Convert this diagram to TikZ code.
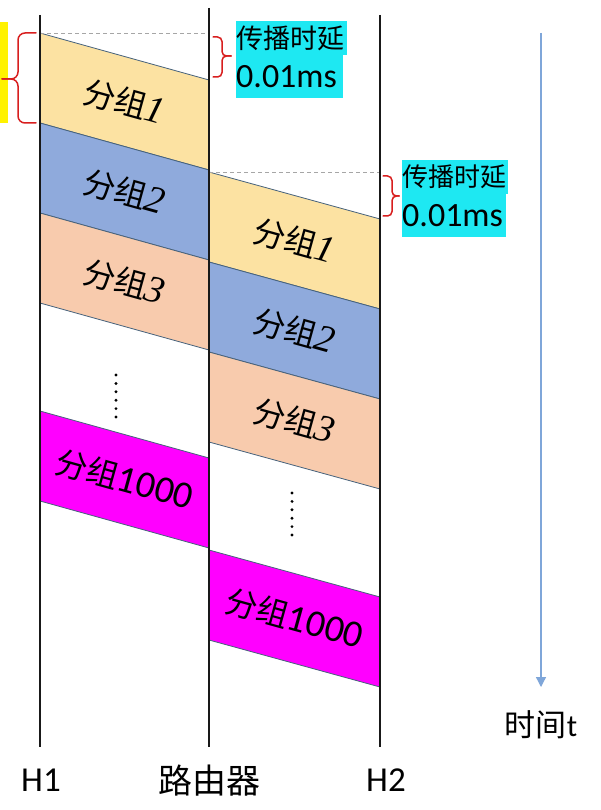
\documentclass[tikz,border=0pt]{standalone}
\usepackage{fontspec}
\setmainfont{Carlito}
\newfontfamily\cjk{Noto Sans CJK SC}
\newfontfamily\dig{Liberation Serif}
\usetikzlibrary{arrows.meta}
\definecolor{pkY}{HTML}{FCE2A2}
\definecolor{pkB}{HTML}{8FAADC}
\definecolor{pkS}{HTML}{F8CBAD}
\definecolor{pkM}{HTML}{FF00FF}
\definecolor{edge}{HTML}{46627C}
\definecolor{lbl}{HTML}{1EE8F2}
\definecolor{brc}{HTML}{D81E1E}
\definecolor{tarrow}{HTML}{7FA6D9}
\tikzset{
  axisline/.style={line width=1.9pt, black!90},
  pkedge/.style={draw=edge, line width=0.8pt},
  pklabel/.style={rotate=-15.5, inner sep=0pt, font=\fontsize{32}{36}\selectfont},
  bracest/.style={draw=brc, line width=1.5pt, line cap=round},
  guide/.style={draw=black!35, dashed, dash pattern=on 4pt off 3pt, line width=0.7pt},
  cyanbox/.style={fill=lbl, inner sep=0pt, anchor=north west, align=left},
  botlabel/.style={inner sep=0pt, font=\fontsize{35}{38}\selectfont},
  dotst/.style={fill=black}
}
\newcommand\dg[1]{{\dig\itshape\fontsize{38}{40}\selectfont #1}}
\newcommand\dk[1]{{\fontsize{38}{40}\selectfont #1}}
% #1 name, #2 x1, #3 x2, #4 ytop, #5 colour, #6 label
\newcommand\pkt[6]{%
  \fill[#5] (#2,#4) -- (#3,#4+47) -- (#3,#4+137) -- (#2,#4+90) -- cycle;
  \draw[pkedge] (#2,#4) -- (#3,#4+47);
  \draw[pkedge] (#2,#4+90) -- (#3,#4+137);
  \node[pklabel] (#1) at ({(#2+#3)/2},#4+68.5) {#6};
}
\begin{document}
\begin{tikzpicture}[x=1pt,y=-1pt]
\useasboundingbox (0,0) rectangle (600,810);
\fill[white] (0,0) rectangle (600,810);
% yellow strip
\fill[yellow] (0,22) rectangle (8,123);
% packets, left column
\pkt{a1}{40}{209}{33}{pkY}{{\cjk 分组}\dg{1}}
\pkt{a2}{40}{209}{123}{pkB}{{\cjk 分组}\dg{2}}
\pkt{a3}{40}{209}{213}{pkS}{{\cjk 分组}\dg{3}}
\pkt{a4}{40}{209}{411}{pkM}{{\cjk 分组}\dk{1000}}
% packets, right column
\pkt{b1}{209}{380}{172}{pkY}{{\cjk 分组}\dg{1}}
\pkt{b2}{209}{380}{262}{pkB}{{\cjk 分组}\dg{2}}
\pkt{b3}{209}{380}{352}{pkS}{{\cjk 分组}\dg{3}}
\pkt{b4}{209}{380}{550}{pkM}{{\cjk 分组}\dk{1000}}
% guide lines
\coordinate (g1a) at (40,33); \coordinate (g1b) at (209,33);
\coordinate (g2a) at (209,172); \coordinate (g2b) at (380,172);
\draw[guide] (g1a) -- (g1b);
\draw[guide] (g2a) -- (g2b);
% vertical lines
\coordinate (h1t) at (40,15); \coordinate (h1b) at (40,747);
\coordinate (rt) at (209,8); \coordinate (rb) at (209,747);
\coordinate (h2t) at (380,15); \coordinate (h2b) at (380,747);
\draw[axisline] (h1t) -- (h1b);
\draw[axisline] (rt) -- (rb);
\draw[axisline] (h2t) -- (h2b);
% dots
\foreach \i in {0,...,5} {
  \fill[dotst] (116,375+8.4*\i) circle (1.6);
  \fill[dotst] (292,493+8.4*\i) circle (1.6);
}
% braces
\draw[bracest, rounded corners=7pt] (36,33) -- (18,33) -- (18,79) -- (2,79);
\draw[bracest, rounded corners=7pt] (2,79) -- (18,79) -- (18,123) -- (36,123);
\draw[bracest, rounded corners=4.5pt] (213,37) -- (222,37) -- (222,56) -- (231,56);
\draw[bracest, rounded corners=4.5pt] (231,56) -- (222,56) -- (222,77) -- (213,77);
\draw[bracest, rounded corners=4.5pt] (383,176) -- (392,176) -- (392,196) -- (399,196);
\draw[bracest, rounded corners=4.5pt] (399,196) -- (392,196) -- (392,216) -- (383,216);
% labels
\node[cyanbox, minimum width=111pt, minimum height=34pt, text width=111pt, font=\cjk\fontsize{27}{30}\selectfont] (p1a) at (236,21) {传播时延};
\node[cyanbox, minimum width=107pt, minimum height=43pt, text width=107pt, font=\fontsize{34}{36}\selectfont] (p1b) at (236,55) {0.01ms};
\node[cyanbox, minimum width=106pt, minimum height=34pt, text width=106pt, font=\cjk\fontsize{26}{30}\selectfont] (p2a) at (402,160) {传播时延};
\node[cyanbox, minimum width=104pt, minimum height=43pt, text width=104pt, font=\fontsize{34}{36}\selectfont] (p2b) at (402,194) {0.01ms};
% time arrow
\coordinate (tt) at (541,33); \coordinate (tb) at (541,687);
\draw[tarrow, line width=1.3pt, -{Triangle[length=10pt,width=10pt]}] (tt) -- (tb);
\node[inner sep=0pt, font=\fontsize{31}{34}\selectfont] (tl) at (541,725) {{\cjk 时间}t};
% bottom labels
\node[botlabel] (lh1) at (41,780) {H1};
\node[botlabel, font=\cjk\fontsize{34}{38}\selectfont] (lr) at (209,781) {路由器};
\node[botlabel] (lh2) at (386,780) {H2};
\end{tikzpicture}
\end{document}
